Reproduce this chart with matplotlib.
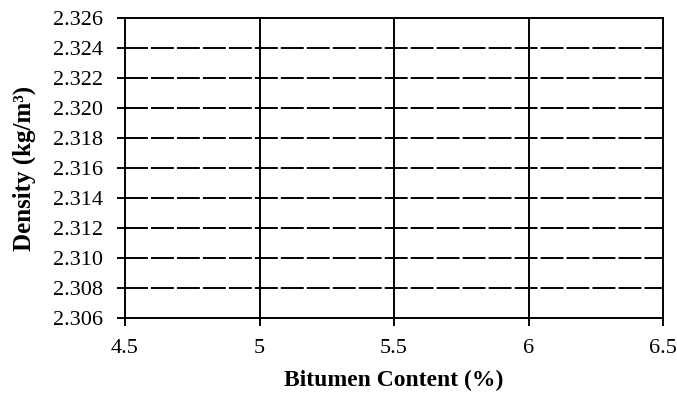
import matplotlib.pyplot as plt

# axis values for the empty density chart
bitumen_ticks = [4.5, 5, 5.5, 6, 6.5]
bitumen_labels = ['4.5', '5', '5.5', '6', '6.5']
density_ticks = [2.306, 2.308, 2.310, 2.312, 2.314, 2.316, 2.318, 2.320, 2.322, 2.324, 2.326]
density_labels = ['2.306', '2.308', '2.310', '2.312', '2.314', '2.316',
                  '2.318', '2.320', '2.322', '2.324', '2.326']

plt.rcParams['font.family'] = ['Liberation Serif', 'DejaVu Serif']

fig = plt.figure(figsize=(6.77, 3.95), dpi=100)
ax = fig.add_axes([125 / 677, 1 - 318 / 395, (663 - 125) / 677, (318 - 18) / 395])

ax.set_xlim(bitumen_ticks[0], bitumen_ticks[-1])
ax.set_ylim(density_ticks[0], density_ticks[-1])
ax.set_xticks(bitumen_ticks)
ax.set_xticklabels(bitumen_labels)
ax.set_yticks(density_ticks)
ax.set_yticklabels(density_labels)

lw = 1.4
# horizontal grid: long dashes
for y in density_ticks[1:-1]:
    ax.axhline(y, color='black', lw=lw, linestyle=(0, (16.5 / lw, 2.2 / lw)), zorder=1)
# vertical grid: solid
for x in bitumen_ticks[1:-1]:
    ax.axvline(x, color='black', lw=lw, zorder=1)

for side in ax.spines.values():
    side.set_linewidth(lw)
    side.set_color('black')

ax.tick_params(direction='out', length=6, width=lw, labelsize=16, colors='black')
ax.tick_params(axis='x', pad=9)
ax.tick_params(axis='y', pad=10)
ax.set_xlabel('Bitumen Content (%)', fontsize=17, fontweight='bold', labelpad=9)
ax.set_ylabel('Density (kg/m³)', fontsize=18, fontweight='bold', labelpad=12)

fig.savefig('out.png', dpi=100)
